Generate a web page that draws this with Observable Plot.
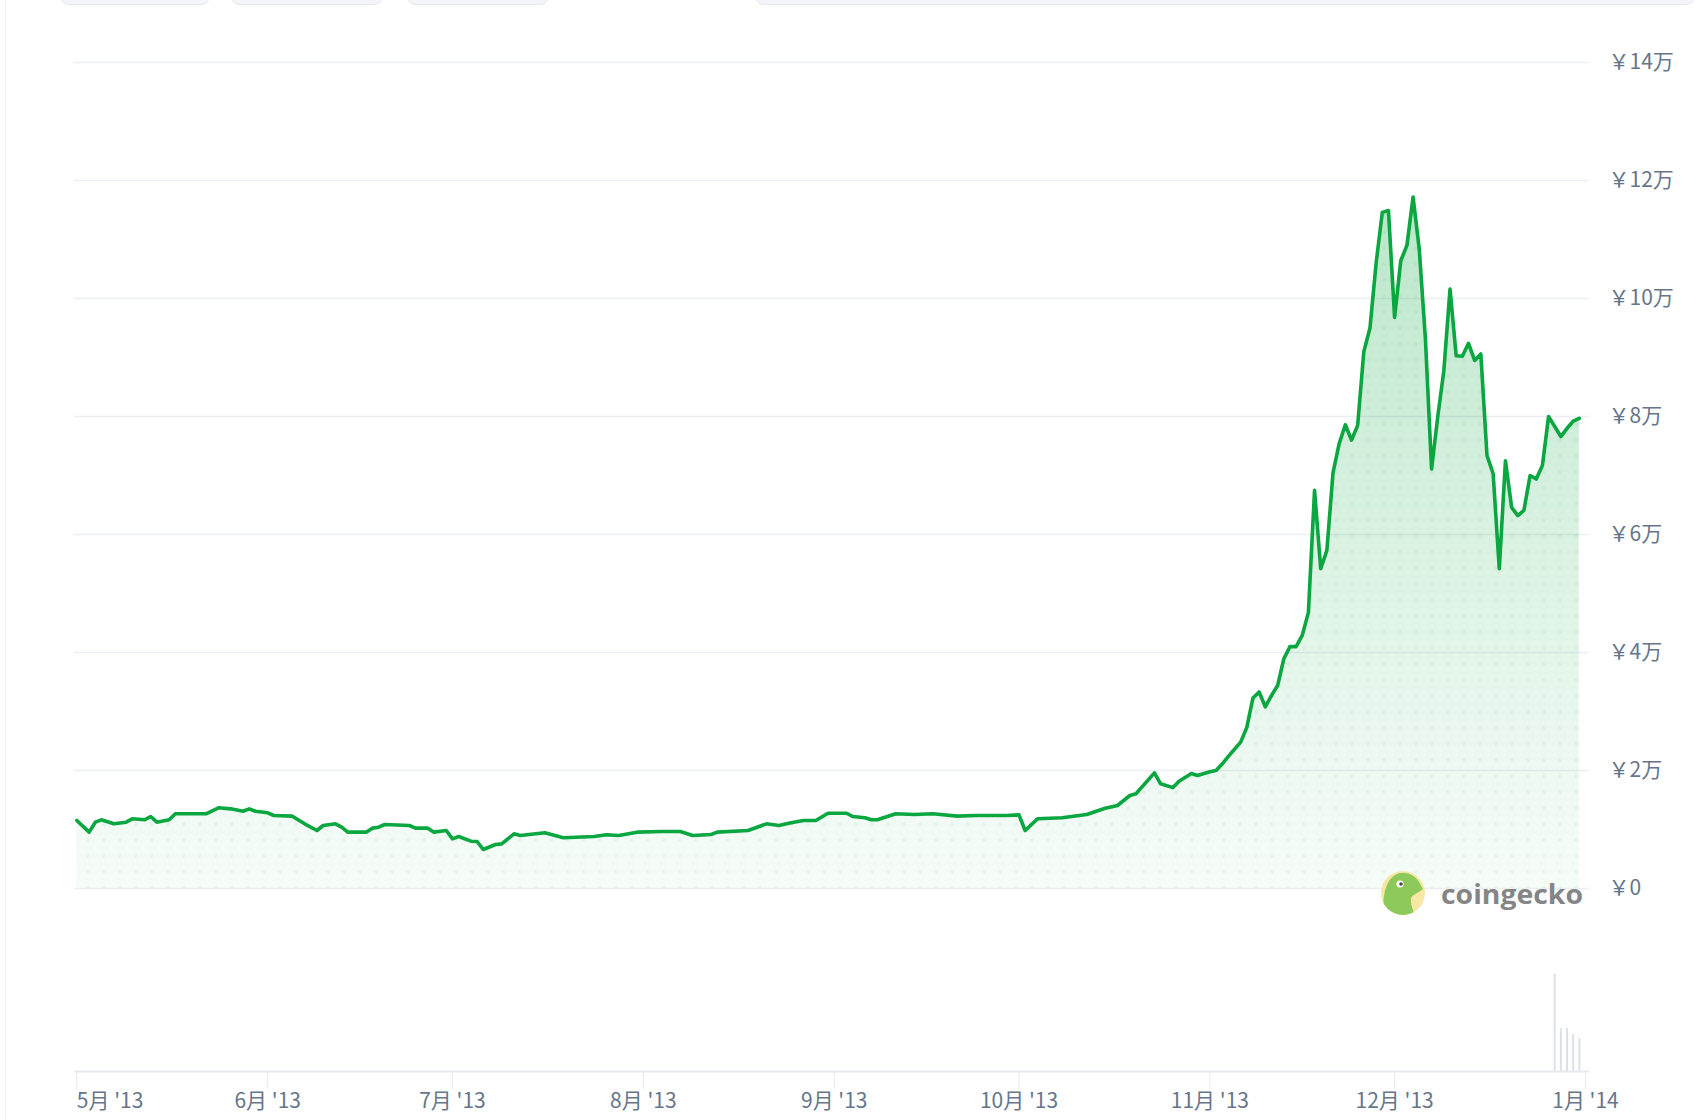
<!DOCTYPE html>
<html>
<head>
<meta charset="utf-8">
<script src="https://cdn.jsdelivr.net/npm/d3@7"></script>
<script src="https://cdn.jsdelivr.net/npm/@observablehq/plot@0.6"></script>
<style>
  html, body { margin: 0; padding: 0; background: #fff; overflow: hidden; }
  #wrap { position: relative; width: 1706px; height: 1120px; overflow: hidden; background: #fff; }
  .tab { position: absolute; top: -24px; height: 27px; border-radius: 9px; background: #f3f5f8; border: 1px solid #e4e7ec; }
  #leftline { position: absolute; left: 5px; top: 0; width: 1px; height: 1120px; background: #eceef1; }
  .layer { position: absolute; left: 0; top: 0; }
</style>
</head>
<body>
<div id="wrap">
  <div class="tab" style="left:60px;width:148px"></div>
  <div class="tab" style="left:231px;width:150px"></div>
  <div class="tab" style="left:407px;width:140px"></div>
  <div class="tab" style="left:755px;width:938px"></div>
  <div id="leftline"></div>
  <div id="main" class="layer"></div>
  <div id="vol" class="layer"></div>
  <svg class="layer" width="1706" height="1120" style="pointer-events:none">
    <defs><clipPath id="geckoClip"><circle cx="1403" cy="893" r="22"/></clipPath></defs>
    <circle cx="1403" cy="893" r="22" fill="#f8e7a3"/>
    <path clip-path="url(#geckoClip)" fill="#8cc95a"
      d="M1384,918 C1382,900 1384,882 1395,875 C1404,870 1414,874 1419,882 L1423,889 C1419,893 1413,894 1411,898 C1410,905 1414,912 1416,918 Z"/>
    <circle cx="1400" cy="884" r="3.6" fill="#ffffff"/>
    <circle cx="1401" cy="884" r="1.8" fill="#4a4a4a"/>
    <text x="1441" y="894" dominant-baseline="central" font-family="'Open Sans', Lato, sans-serif" font-weight="700" font-size="26" fill="#858585" textLength="142" lengthAdjust="spacingAndGlyphs">coingecko</text>
  </svg>
</div>
<script>
// ---- data (price in JPY) ----
const dates = [
  "2013-05-01","2013-05-03","2013-05-04","2013-05-05","2013-05-07","2013-05-09","2013-05-10","2013-05-12",
  "2013-05-13","2013-05-14","2013-05-16","2013-05-17","2013-05-22","2013-05-24","2013-05-26","2013-05-28",
  "2013-05-29","2013-05-30","2013-06-01","2013-06-02","2013-06-05","2013-06-07","2013-06-09","2013-06-10",
  "2013-06-12","2013-06-13","2013-06-14","2013-06-17","2013-06-18","2013-06-19","2013-06-20","2013-06-24",
  "2013-06-25","2013-06-27","2013-06-28","2013-06-30","2013-07-01","2013-07-02","2013-07-04","2013-07-05",
  "2013-07-06","2013-07-08","2013-07-09","2013-07-11","2013-07-12","2013-07-16","2013-07-19","2013-07-24",
  "2013-07-26","2013-07-28","2013-07-31","2013-08-04","2013-08-07","2013-08-09","2013-08-12","2013-08-13",
  "2013-08-18","2013-08-21","2013-08-23","2013-08-25","2013-08-27","2013-08-29","2013-08-31","2013-09-03",
  "2013-09-04","2013-09-06","2013-09-07","2013-09-08","2013-09-11","2013-09-14","2013-09-17","2013-09-21",
  "2013-09-24","2013-09-29","2013-10-01","2013-10-02","2013-10-04","2013-10-08","2013-10-12","2013-10-15",
  "2013-10-17","2013-10-19","2013-10-20","2013-10-23","2013-10-24","2013-10-26","2013-10-27","2013-10-29",
  "2013-10-30","2013-11-01","2013-11-02","2013-11-03","2013-11-04","2013-11-05","2013-11-06","2013-11-07",
  "2013-11-08","2013-11-09","2013-11-10","2013-11-11","2013-11-12","2013-11-13","2013-11-14","2013-11-15",
  "2013-11-16","2013-11-17","2013-11-18","2013-11-19","2013-11-20","2013-11-21","2013-11-22","2013-11-23",
  "2013-11-24","2013-11-25","2013-11-26","2013-11-27","2013-11-28","2013-11-29","2013-11-30","2013-12-01",
  "2013-12-02","2013-12-03","2013-12-04","2013-12-05","2013-12-06","2013-12-07","2013-12-08","2013-12-09",
  "2013-12-10","2013-12-11","2013-12-12","2013-12-13","2013-12-14","2013-12-15","2013-12-16","2013-12-17",
  "2013-12-18","2013-12-19","2013-12-20","2013-12-21","2013-12-22","2013-12-23","2013-12-24","2013-12-25",
  "2013-12-26","2013-12-27","2013-12-28","2013-12-29","2013-12-30","2013-12-31"
];
const prices = [
  11530, 9550,11240,11640,10960,11240,11810,11640,
  12200,11240,11640,12660,12660,13680,13500,13100,
  13500,13100,12830,12370,12260,10960, 9830,10680,
  10960,10390, 9550, 9550,10230,10390,10850,10680,
  10230,10230, 9550, 9830, 8420, 8810, 8020, 7970,
   6610, 7460, 7570, 9270, 8980, 9440, 8590, 8810,
   9100, 8980, 9550, 9660, 9660, 8980, 9150, 9550,
   9830,10960,10680,11130,11530,11530,12760,12760,
  12200,11980,11640,11640,12660,12540,12660,12260,
  12370,12370,12490, 9830,11810,11980,12540,13600,
  14070,15760,16050,19600,17750,17100,18190,19500,
  19150,19800,20000,21100,22400,23600,24800,27300,
  32300,33300,30800,32700,34400,38900,41000,41000,
  42900,46800,67500,54200,57300,70500,75400,78600,
  76000,78500,91000,95000,106000,114600,114900,96800,
  106400,109000,117200,108400,93200,71100,79900,87800,
  101600,90300,90200,92400,89500,90600,73400,70300,
  54200,72500,64600,63200,64100,70000,69400,71700,
  80000,78300,76600,78000,79200,79700
];
const volDates = ["2013-12-27","2013-12-28","2013-12-29","2013-12-30","2013-12-31"];
const volumes  = [29.5, 13, 13, 11.2, 10];   // relative trading volume (unlabelled in source)
const tickDates  = ["2013-05-01","2013-06-01","2013-07-01","2013-08-01","2013-09-01","2013-10-01","2013-11-01","2013-12-01","2014-01-01"];
const tickLabels = ["5月 '13","6月 '13","7月 '13","8月 '13","9月 '13","10月 '13","11月 '13","12月 '13","1月 '14"];
const yTicks = [0, 20000, 40000, 60000, 80000, 100000, 120000, 140000];

// ---- build tables ----
const data = dates.map((d, i) => ({date: new Date(d), price: prices[i]}));
const volData = volDates.map((d, i) => ({date: new Date(d), vol: volumes[i]}));
const tickData = tickDates.map((d, i) => ({date: new Date(d), label: tickLabels[i]}));
const xDomain = [new Date("2013-04-30T15:00:00Z"), new Date("2014-01-01T15:36:00Z")];

const FONT = "'Noto Sans CJK JP', 'Noto Sans', sans-serif";
const GREEN = "#0aa640";
const TEXT = "#66758a";

const defs = () => {
  const g = d3.create("svg:defs");
  const lg = g.append("linearGradient").attr("id", "areaGrad")
    .attr("x1", 0).attr("x2", 0).attr("y1", 0).attr("y2", 1);
  lg.append("stop").attr("offset", "0%").attr("stop-color", GREEN).attr("stop-opacity", 0.28);
  lg.append("stop").attr("offset", "55%").attr("stop-color", GREEN).attr("stop-opacity", 0.14);
  lg.append("stop").attr("offset", "100%").attr("stop-color", GREEN).attr("stop-opacity", 0.035);
  const p = g.append("pattern").attr("id", "dots").attr("patternUnits", "userSpaceOnUse")
    .attr("width", 16).attr("height", 16);
  p.append("circle").attr("cx", 8).attr("cy", 8).attr("r", 1.9)
    .attr("fill", GREEN).attr("fill-opacity", 0.07);
  return g.node();
};

const main = Plot.plot({
  width: 1706, height: 1120,
  marginTop: 62, marginBottom: 232, marginLeft: 74, marginRight: 117,
  x: {type: "time", domain: xDomain, axis: null},
  y: {domain: [0, 140000], axis: null},
  style: {fontFamily: FONT, fontSize: "20px", color: TEXT, background: "transparent", overflow: "visible"},
  marks: [
    defs,
    Plot.ruleY(yTicks, {stroke: "#eceef2", strokeWidth: 1.5}),
    Plot.areaY(data, {x: "date", y: "price", fill: "url(#areaGrad)"}),
    Plot.areaY(data, {x: "date", y: "price", fill: "url(#dots)"}),
    Plot.lineY(data, {x: "date", y: "price", stroke: GREEN, strokeWidth: 3.6, strokeLinejoin: "round", strokeLinecap: "round"}),
    Plot.axisY({anchor: "right", ticks: yTicks, tickSize: 0, tickPadding: 19, label: null,
      tickFormat: v => v === 0 ? "￥0" : `￥${v / 10000}万`, fontSize: 21, fill: TEXT})
  ]
});
document.getElementById("main").append(main);

const vol = Plot.plot({
  width: 1706, height: 1120,
  marginTop: 906, marginBottom: 49, marginLeft: 74, marginRight: 117,
  x: {type: "time", domain: xDomain, axis: null},
  y: {domain: [0, 50], axis: null},
  style: {fontFamily: FONT, fontSize: "20px", color: TEXT, background: "transparent", overflow: "visible"},
  marks: [
    Plot.ruleX(volData, {x: "date", y1: 0, y2: "vol", stroke: "#dde1e7", strokeWidth: 2}),
    Plot.ruleY([0], {stroke: "#e6e9ed", strokeWidth: 2}),
    Plot.axisX({ticks: tickData.map(d => d.date), tickSize: 18, tickFormat: () => "", label: null, stroke: "#e6e9ed"}),
    Plot.text(tickData.slice(0, 1), {x: "date", text: "label", frameAnchor: "bottom", dy: 30,
      textAnchor: "start", lineAnchor: "middle", fill: TEXT, fontSize: 21}),
    Plot.text(tickData.slice(1), {x: "date", text: "label", frameAnchor: "bottom", dy: 30,
      textAnchor: "middle", lineAnchor: "middle", fill: TEXT, fontSize: 21})
  ]
});
document.getElementById("vol").append(vol);
</script>
</body>
</html>
